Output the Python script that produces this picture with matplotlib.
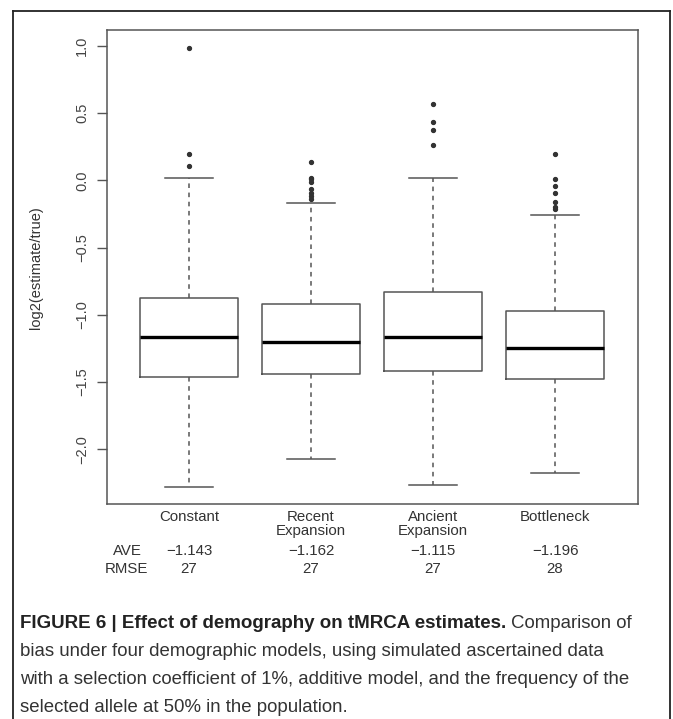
import matplotlib.pyplot as plt
import matplotlib.transforms as mtransforms
from matplotlib.lines import Line2D

# data
models = ['Constant', 'Recent\nExpansion', 'Ancient\nExpansion', 'Bottleneck']
q1 = [-1.462, -1.443, -1.415, -1.477]
med = [-1.165, -1.205, -1.165, -1.245]
q3 = [-0.873, -0.922, -0.833, -0.974]
whis_lo = [-2.283, -2.070, -2.268, -2.174]
whis_hi = [0.015, -0.166, 0.015, -0.256]
outliers = [
    [0.986, 0.193, 0.104],
    [0.134, 0.019, 0.007, -0.010, -0.065, -0.092, -0.114, -0.141],
    [0.570, 0.431, 0.374, 0.265],
    [0.196, 0.010, -0.042, -0.097, -0.161, -0.200, -0.213],
]
ave = ['\u22121.143', '\u22121.162', '\u22121.115', '\u22121.196']
rmse = ['27', '27', '27', '28']
yticks = [-2.0, -1.5, -1.0, -0.5, 0.0, 0.5, 1.0]

W, H = 673, 719
plt.rcParams['font.family'] = ['Liberation Sans', 'DejaVu Sans']

fig = plt.figure(figsize=(W / 100, H / 100), dpi=100)


def fx(x):
    return x / W


def fy(y):
    return 1 - y / H


# axes placed in pixel coordinates of the reference
ax = fig.add_axes([fx(107.3), fy(504.3), fx(638) - fx(107.3), fy(30) - fy(504.3)])

stats = []
for i in range(len(models)):
    stats.append(dict(q1=q1[i], med=med[i], q3=q3[i],
                      whislo=whis_lo[i], whishi=whis_hi[i], fliers=outliers[i]))

gray = '#555555'
ax.bxp(stats, positions=[1, 2, 3, 4], widths=0.8, patch_artist=False,
       boxprops=dict(color=gray, lw=1.1),
       medianprops=dict(color='black', lw=2.4, solid_capstyle='butt'),
       whiskerprops=dict(color=gray, lw=1.1, linestyle=(0, (3, 3))),
       capprops=dict(color=gray, lw=1.1),
       capwidths=0.4,
       flierprops=dict(marker='o', markersize=2.8, markerfacecolor='#333333',
                       markeredgecolor='#333333'))

ax.set_xlim(0.33, 4.68)
ax.set_ylim(-2.409, 1.1175)
ax.set_yticks(yticks)
ax.set_yticklabels([('%.1f' % t).replace('-', '\u2212') for t in yticks],
                   rotation=90, va='center', fontsize=10.5, color='#444444')
ax.tick_params(axis='y', length=7, width=1.0, color=gray, pad=6)
ax.set_xticks([1, 2, 3, 4])
ax.set_xticklabels(models, fontsize=10.8, color='#333333', va='top',
                   linespacing=1.0)
ax.tick_params(axis='x', length=0, pad=4)
for s in ax.spines.values():
    s.set_color(gray)
    s.set_linewidth(1.1)
ax.set_ylabel('log2(estimate/true)', fontsize=10.5, color='#333333')
axw = fx(638) - fx(107.3)
ax.yaxis.set_label_coords((fx(43) - fx(107.3)) / axw, 0.5)

# AVE / RMSE rows under the categories
trans = mtransforms.blended_transform_factory(ax.transData, fig.transFigure)
for i in range(len(models)):
    ax.text(i + 1, fy(551), ave[i], transform=trans, ha='center', va='center',
            fontsize=10.8, color='#333333')
    ax.text(i + 1, fy(569), rmse[i], transform=trans, ha='center', va='center',
            fontsize=10.8, color='#333333')
fig.text(fx(142), fy(551), 'AVE', ha='right', va='center', fontsize=10.8, color='#333333')
fig.text(fx(148), fy(569), 'RMSE', ha='right', va='center', fontsize=10.8, color='#333333')

# outer frame (open at the bottom)
for xs, ys in [([13, 13], [719, 11]), ([13, 670], [11, 11]), ([670, 670], [11, 719])]:
    fig.add_artist(Line2D([fx(v) for v in xs], [fy(v) for v in ys],
                          color='#222222', lw=1.3, transform=fig.transFigure))

# caption
cap_size = 13.4
bold = fig.text(fx(20), fy(624), 'FIGURE 6 | Effect of demography on tMRCA estimates.',
                fontsize=13.5, fontweight='bold', color='#222222', va='center')
renderer = fig.canvas.get_renderer()
bb = bold.get_window_extent(renderer=renderer)
fig.text(bb.x1 / fig.bbox.width + fx(5), fy(624), 'Comparison of',
         fontsize=cap_size, color='#333333', va='center')
lines = ['bias under four demographic models, using simulated ascertained data',
         'with a selection coefficient of 1%, additive model, and the frequency of the',
         'selected allele at 50% in the population.']
for k, line in enumerate(lines):
    fig.text(fx(20), fy(652 + 27.5 * k), line, fontsize=cap_size, color='#333333',
             va='center')

fig.savefig('out.png', dpi=100)
